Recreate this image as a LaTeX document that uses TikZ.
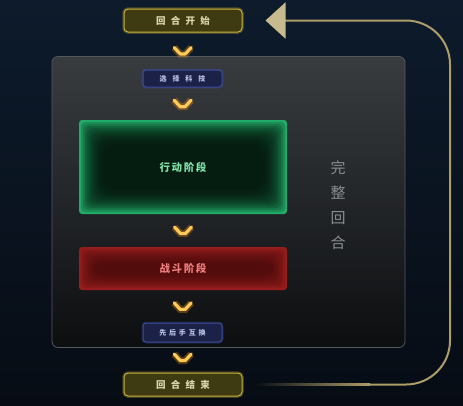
\documentclass[tikz,border=0pt]{standalone}
\usepackage{fontspec}
\usepackage{tikz}
\usetikzlibrary{arrows.meta,positioning}
\newfontfamily\cjk{Noto Sans CJK SC}
\definecolor{bgtop}{HTML}{0D1B2C}
\definecolor{bgbot}{HTML}{070C14}
\definecolor{golden}{HTML}{C9B23A}
\definecolor{goldfill}{HTML}{3E3A12}
\definecolor{goldtext}{HTML}{DCD6AA}
\definecolor{bluedge}{HTML}{3D4C9C}
\definecolor{bluefill}{HTML}{1C2247}
\definecolor{bluetext}{HTML}{BAC2EA}
\definecolor{grnedge}{HTML}{20AC68}
\definecolor{grnin}{HTML}{020E07}
\definecolor{grntext}{HTML}{80E2A8}
\definecolor{rededge}{HTML}{9A1D1D}
\definecolor{redin}{HTML}{3E0707}
\definecolor{redtext}{HTML}{F27E7E}
\definecolor{paneltop}{HTML}{393C3F}
\definecolor{panelbot}{HTML}{0C0E10}
\definecolor{paneledge}{HTML}{55595D}
\definecolor{sidegray}{HTML}{8A8E92}
\definecolor{chevcol}{HTML}{FFC95A}
\definecolor{chevglow}{HTML}{E08A10}
\definecolor{loopgold}{HTML}{AD9D68}
\definecolor{loophead}{HTML}{C6BA8E}
\newcommand{\glowfill}[4]{%
	\foreach \i in {1,...,12}{%
		\pgfmathtruncatemacro{\mix}{100*exp(-\i/#4)}%
		\fill[#1!\mix!#2,rounded corners=3pt+\i*1pt] ([shift={(\i*#3,\i*#3)}]path picture bounding box.north west) rectangle ([shift={(-\i*#3,-\i*#3)}]path picture bounding box.south east);%
	}}

\begin{document}
\begin{tikzpicture}[x=1pt,y=-1pt]
	\tikzstyle{every node}=[font=\cjk];
	\tikzstyle{rnd}=[draw=golden,line width=1pt,fill=goldfill,rounded corners=4pt,minimum width=118pt,minimum height=23pt,text=goldtext,preaction={draw=golden,line width=3.5pt,opacity=.3},font=\cjk\bfseries\fontsize{9.5}{11}\selectfont\addfontfeature{LetterSpace=55}];
	\tikzstyle{sub}=[draw=bluedge,line width=1pt,fill=bluefill,rounded corners=3pt,minimum width=79pt,text=bluetext,preaction={draw=bluedge,line width=3pt,opacity=.3}];
	\tikzstyle{phase}=[rounded corners=3pt,minimum width=208pt,font=\cjk\bfseries\fontsize{10.5}{12}\selectfont\addfontfeature{LetterSpace=15}];
	\tikzstyle{actbox}=[phase,minimum height=94pt,fill=grnedge,text=grntext,path picture={\glowfill{grnedge}{grnin}{2}{5}}];
	\tikzstyle{fightbox}=[phase,minimum height=43pt,fill=rededge,text=redtext,path picture={\glowfill{rededge}{redin}{1.4}{8}}];
	\tikzstyle{panel}=[draw=paneledge,line width=.8pt,rounded corners=6pt,top color=paneltop,bottom color=panelbot,minimum width=353pt,minimum height=291pt];
	\tikzstyle{side}=[text=sidegray,align=center,font=\cjk\fontsize{15}{25}\selectfont];
	\tikzstyle{chevline}=[draw=chevcol,line width=3.2pt,line cap=round,line join=round,preaction={draw=chevglow,line width=7pt,opacity=.35}];
	\tikzstyle{loopline}=[draw=loopgold,line width=2pt,rounded corners=44pt,-{Triangle[length=20pt,width=36pt,color=loophead]}];
	\tikzset{chev/.pic={\draw[chevline] (-8.5,-3.5) -- (-2.5,3) -- (2.5,3) -- (8.5,-3.5);}};
	\shade[top color=bgtop,bottom color=bgbot] (0,0) rectangle (463,405);
	\useasboundingbox (0,0) rectangle (463,405);
	\node (round) at (228.5,202) [panel] {};
	\node (side) at (338,205) [side] {完\\整\\回\\合};
	\node (start) at (183,20.5) [rnd] {回合开始};
	\node (tech) at (182.5,78.5) [sub,minimum height=17pt,font=\cjk\bfseries\fontsize{7}{8}\selectfont\addfontfeature{LetterSpace=85}] {选择科技};
	\node (act) at (183,167) [actbox] {行动阶段};
	\node (fight) at (183,268.5) [fightbox] {战斗阶段};
	\node (swap) at (182.5,332.5) [sub,minimum height=19pt,font=\cjk\bfseries\fontsize{7}{8}\selectfont\addfontfeature{LetterSpace=40}] {先后手互换};
	\node (finish) at (183,384.5) [rnd] {回合结束};
	\foreach \a/\b in {start/tech,tech/act,act/fight,fight/swap,swap/finish}
		\path (\a) -- pic[pos=.5]{chev} (\b);
	\coordinate (loopin) at (370,384.5);
	\shade[left color=bgbot,right color=loopgold] ([xshift=12pt,yshift=-1pt]finish.east) rectangle ([yshift=1pt]loopin);
	\draw[loopline] (loopin) -- (450,384.5) -- (450,20.5) -- ([xshift=23pt]start.east);
\end{tikzpicture}
\end{document}
